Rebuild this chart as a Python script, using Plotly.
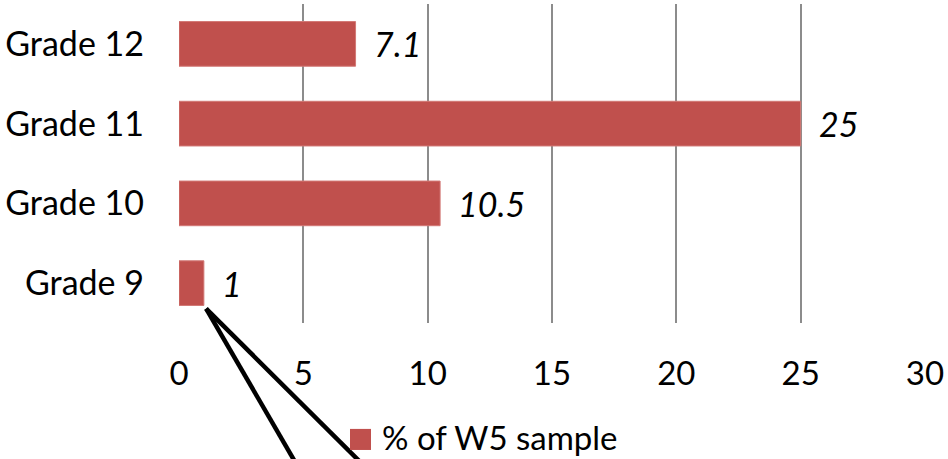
import plotly.graph_objects as go

# Share of the W5 sample by grade
grades = ["Grade 9", "Grade 10", "Grade 11", "Grade 12"]
pct_w5 = [1, 10.5, 25, 7.1]
value_labels = ["1", "10.5", "25", "7.1"]
x_ticks = [0, 5, 10, 15, 20, 25, 30]
series_name = "% of W5 sample"

BAR_RED = "#C0504D"
GRID = "#8C8C8C"
FONT = "Lato"
X_MAX = 30
BAR_FRAC = 0.56

fig = go.Figure()
fig.add_trace(go.Bar(
    y=grades, x=pct_w5, orientation="h", name=series_name,
    marker=dict(color=BAR_RED, line=dict(color="#D27875", width=1)),
    showlegend=False,
))

# italic value labels to the right of each bar
for g, v, t in zip(grades, pct_w5, value_labels):
    fig.add_annotation(x=v, y=g, xref="x", yref="y", text=f"<i>{t}</i>",
                       showarrow=False, xanchor="left", yanchor="middle",
                       xshift=16, font=dict(family=FONT, size=34, color="black"))

# callout lines drawn from the corner of the Grade 9 bar
n_cat = len(grades)
x0 = pct_w5[0] / X_MAX
y0 = (0.5 - BAR_FRAC / 2) / n_cat
for xe in (0.1555, 0.2426):
    fig.add_shape(type="line", xref="paper", yref="paper",
                  x0=x0 + 0.003, y0=y0 - 0.01, x1=xe, y1=-0.435,
                  line=dict(color="black", width=4.5))

# series key below the axis: coloured square plus its name
fig.add_shape(type="rect", xref="paper", yref="paper",
              x0=0.2292, x1=0.2574, y0=-0.398, y1=-0.332,
              fillcolor=BAR_RED, line=dict(width=0))
fig.add_annotation(x=0.2694, y=-0.358, xref="paper", yref="paper",
                   text=series_name, showarrow=False, xanchor="left", yanchor="middle",
                   font=dict(family=FONT, size=33, color="black"))

fig.update_layout(
    width=948, height=459,
    margin=dict(l=179, r=23, t=4, b=136, autoexpand=False),
    paper_bgcolor="white", plot_bgcolor="white",
    bargap=1 - BAR_FRAC,
    font=dict(family=FONT, size=33, color="black"),
    showlegend=False,
    xaxis=dict(range=[0, X_MAX], tickvals=x_ticks, showgrid=True, gridcolor=GRID,
               gridwidth=2, zeroline=False, showline=False, ticks="",
               ticklabelstandoff=28, tickfont=dict(size=33)),
    yaxis=dict(categoryorder="array", categoryarray=grades, range=[-0.5, 3.5],
               showgrid=False, zeroline=False, showline=False, ticks="",
               ticklabelstandoff=34, tickfont=dict(size=34)),
)

fig.write_html("out.html")
